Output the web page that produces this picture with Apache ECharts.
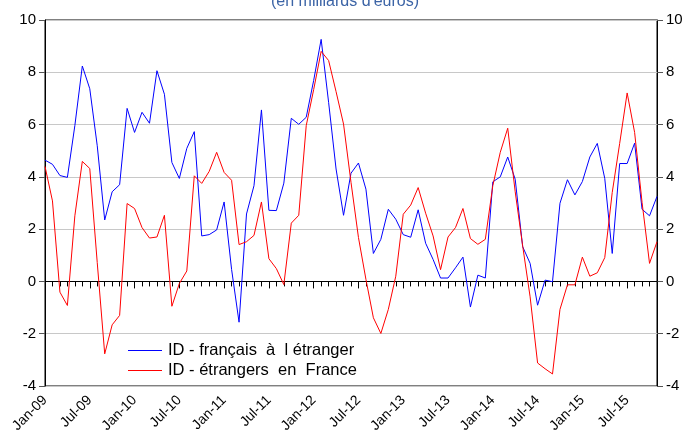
<!DOCTYPE html>
<html>
<head>
<meta charset="utf-8">
<script src="https://cdn.jsdelivr.net/npm/echarts@6/dist/echarts.min.js"></script>
<style>
  html, body { margin: 0; padding: 0; background: #fff; }
  #chart { width: 690px; height: 437px; }
</style>
</head>
<body>
<div id="chart"></div>
<script>
// mois de janv. 2009 à nov. 2015
const monthNames = ['Jan', 'Feb', 'Mar', 'Apr', 'May', 'Jun', 'Jul', 'Aug', 'Sep', 'Oct', 'Nov', 'Dec']
const years = ['09', '10', '11', '12', '13', '14', '15']
const nMonths = 83

const categories = []
for (let i = 0; i < nMonths; i++) {
  categories.push(monthNames[i % 12] + '-' + years[Math.floor(i / 12)])
}

// ID - français à l'étranger
const idFrancais = [
  4.64, 4.48, 4.05, 3.98, 5.96, 8.24, 7.37, 5.19, 2.35, 3.43, 3.70, 6.62,
  5.70, 6.47, 6.05, 8.06, 7.16, 4.55, 3.94, 5.09, 5.73, 1.74, 1.79, 1.97,
  3.04, 0.46, -1.56, 2.58, 3.66, 6.56, 2.72, 2.71, 3.76, 6.24, 6.01, 6.28,
  7.69, 9.26, 6.85, 4.30, 2.53, 4.14, 4.53, 3.53, 1.07, 1.61, 2.76, 2.38,
  1.79, 1.69, 2.74, 1.46, 0.84, 0.13, 0.13, 0.52, 0.93, -0.98, 0.24, 0.13,
  3.81, 4.00, 4.76, 3.91, 1.33, 0.69, -0.91, 0.05, -0.01, 2.99, 3.89, 3.31,
  3.82, 4.76, 5.28, 3.94, 1.07, 4.51, 4.51, 5.29, 2.76, 2.51, 3.25
]

// ID - étrangers en France
const idEtrangers = [
  4.40, 3.08, -0.41, -0.92, 2.51, 4.59, 4.32, 0.72, -2.77, -1.66, -1.30, 2.98,
  2.79, 2.06, 1.66, 1.70, 2.53, -0.95, -0.08, 0.40, 4.04, 3.75, 4.21, 4.94,
  4.17, 3.87, 1.41, 1.52, 1.76, 3.04, 0.87, 0.49, -0.12, 2.23, 2.53, 5.96,
  7.34, 8.80, 8.45, 7.26, 6.02, 3.79, 1.68, 0.08, -1.39, -1.99, -1.07, 0.20,
  2.57, 2.92, 3.59, 2.61, 1.74, 0.45, 1.70, 2.06, 2.79, 1.64, 1.42, 1.61,
  3.66, 4.94, 5.86, 3.43, 1.36, -0.59, -3.12, -3.34, -3.54, -1.07, -0.13, -0.13,
  0.93, 0.20, 0.33, 0.91, 3.40, 5.28, 7.21, 5.70, 3.02, 0.69, 1.52
]

const seriesNames = ['ID - français  à  l étranger', 'ID - étrangers  en  France']
const seriesColors = ['#0000ff', '#ff0000']
const titleText = '(en milliards d\'euros)'

const font = 'Liberation Sans, Arial, sans-serif'
const chart = echarts.init(document.getElementById('chart'))

const yAxisBase = {
  type: 'value',
  min: -4,
  max: 10,
  interval: 2,
  axisLine: { show: true, lineStyle: { color: '#000', width: 1 } },
  axisTick: { show: true, inside: false, length: 6, lineStyle: { color: '#555' } },
  axisLabel: { color: '#000', fontSize: 15, fontFamily: font, margin: 9 },
  splitLine: { show: false }
}

chart.setOption({
  animation: false,
  color: seriesColors,
  title: {
    text: titleText,
    left: 'center',
    top: -11,
    textStyle: { color: '#3c64a6', fontSize: 16, fontWeight: 'normal', fontFamily: font }
  },
  grid: {
    left: 45,
    right: 33,
    top: 20,
    bottom: 51,
    show: true,
    borderColor: '#000',
    borderWidth: 1
  },
  legend: {
    orient: 'vertical',
    left: 123,
    top: 337,
    itemWidth: 34,
    itemHeight: 1,
    itemGap: 3,
    icon: 'rect',
    textStyle: { color: '#000', fontSize: 16.5, fontFamily: font, padding: [0, 0, 0, 1] },
    data: seriesNames
  },
  xAxis: [{
    type: 'category',
    data: categories,
    boundaryGap: false,
    axisLine: { show: true, lineStyle: { color: '#000' } },
    axisTick: { show: true, interval: 0, length: 5, lineStyle: { color: '#000' } },
    axisLabel: { show: false },
    splitLine: { show: false }
  }, {
    type: 'category',
    data: categories,
    boundaryGap: false,
    position: 'bottom',
    axisLine: { show: false },
    axisTick: { show: true, interval: 5, length: 7, lineStyle: { color: '#000' } },
    axisLabel: {
      interval: 5,
      rotate: 45,
      color: '#000',
      fontSize: 14,
      fontFamily: font,
      margin: 12
    },
    splitLine: { show: false }
  }],
  yAxis: [
    Object.assign({}, yAxisBase, {
      position: 'left',
      splitLine: { show: true, lineStyle: { color: '#c8c8c8', width: 1 } }
    }),
    Object.assign({}, yAxisBase, { position: 'right' })
  ],
  series: [{
    name: seriesNames[0],
    type: 'line',
    data: idFrancais,
    symbol: 'none',
    lineStyle: { color: seriesColors[0], width: 1 },
    itemStyle: { color: seriesColors[0] }
  }, {
    name: seriesNames[1],
    type: 'line',
    data: idEtrangers,
    symbol: 'none',
    lineStyle: { color: seriesColors[1], width: 1 },
    itemStyle: { color: seriesColors[1] }
  }]
})
</script>
</body>
</html>
